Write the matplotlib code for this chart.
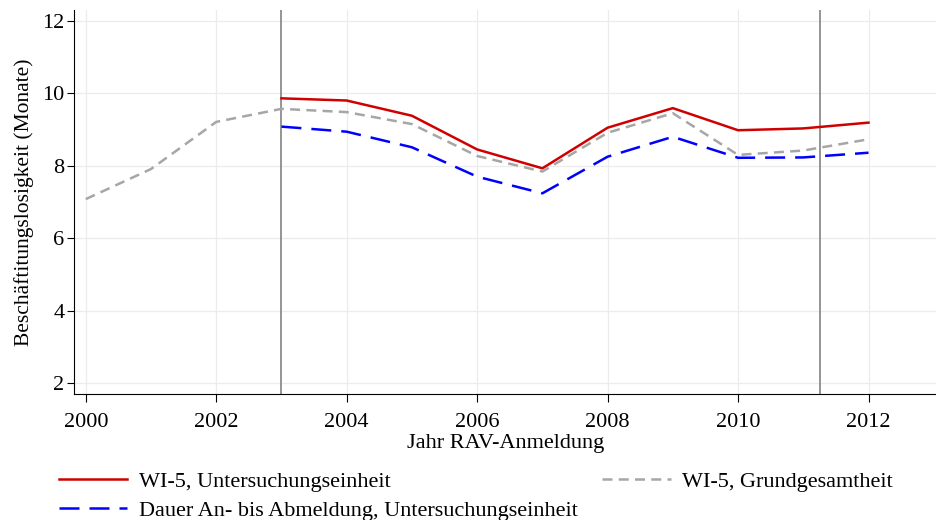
import matplotlib.pyplot as plt

plt.rcParams['font.family'] = ['Liberation Serif', 'DejaVu Serif']

years = [2000, 2001, 2002, 2003, 2004, 2005, 2006, 2007, 2008, 2009, 2010, 2011, 2012]
years_ue = [2003, 2004, 2005, 2006, 2007, 2008, 2009, 2010, 2011, 2012]

wi5_grund = [7.08, 7.91, 9.21, 9.57, 9.48, 9.15, 8.27, 7.84, 8.91, 9.45, 8.30, 8.42, 8.73]
wi5_ue = [9.86, 9.80, 9.38, 8.45, 7.93, 9.05, 9.59, 8.98, 9.03, 9.19]
dauer_ue = [9.08, 8.94, 8.51, 7.70, 7.24, 8.25, 8.80, 8.22, 8.23, 8.36]

vlines = [2003, 2011.25]
xticks = [2000, 2002, 2004, 2006, 2008, 2010, 2012]
yticks = [2, 4, 6, 8, 10, 12]

fig = plt.figure(figsize=(9.37, 5.2), dpi=100)
ax = fig.add_axes([0.079, 0.242, 0.921, 0.739])

for v in vlines:
    ax.axvline(v, color="#8c8c8c", lw=1.3, zorder=1)

l_red, = ax.plot(years_ue, wi5_ue, color="#d00000", lw=1.8, label="WI-5, Untersuchungseinheit", zorder=4)
l_blue, = ax.plot(years_ue, dauer_ue, color="#0000ff", lw=1.8, dashes=(8, 4),
                  label="Dauer An- bis Abmeldung, Untersuchungseinheit", zorder=3)
l_gray, = ax.plot(years, wi5_grund, color="#a6a6a6", lw=1.8, dashes=(4, 2.5),
                  label="WI-5, Grundgesamtheit", zorder=3)

ax.set_xlim(1999.82, 2013.05)
ax.set_ylim(1.7, 12.3)
ax.set_xticks(xticks)
ax.set_yticks(yticks)
ax.grid(True, color="#ececec", lw=0.9)
ax.set_axisbelow(True)
for s in ["top", "right"]:
    ax.spines[s].set_visible(False)
ax.tick_params(labelsize=16, direction="out", length=5, color="black")
ax.tick_params(axis="x", length=6, pad=7.5)
ax.tick_params(axis="y", pad=2)
ax.set_xlabel("Jahr RAV-Anmeldung", fontsize=16, labelpad=1.5)
ax.set_ylabel("Beschäftitungslosigkeit (Monate)", fontsize=15.5, labelpad=6)

fig.legend(handles=[l_red, l_blue, l_gray], loc="upper left", bbox_to_anchor=(0.0625, 0.094),
           ncol=2, frameon=False, fontsize=16, handlelength=3.1, handletextpad=0.5,
           columnspacing=1.1, labelspacing=0.39, borderaxespad=0, borderpad=0)

fig.savefig("out.png", dpi=100)
